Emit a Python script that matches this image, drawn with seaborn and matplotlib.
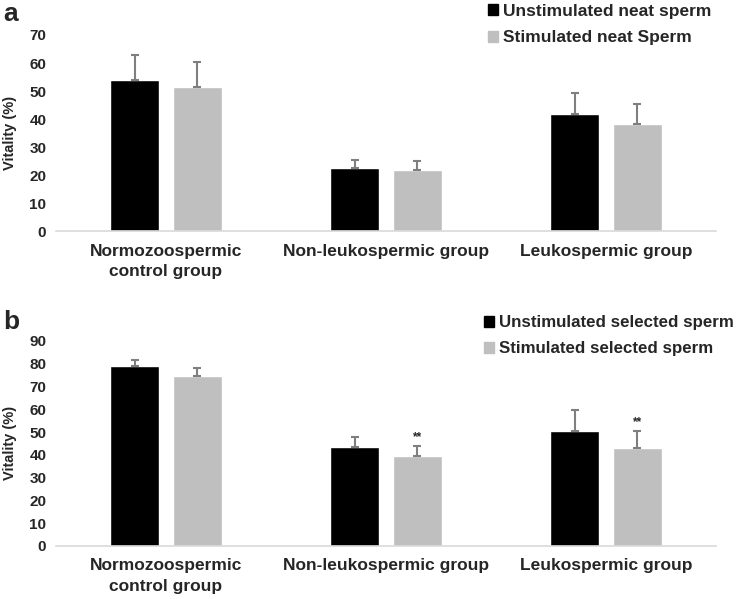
import pandas as pd
import matplotlib
matplotlib.use("Agg")
import matplotlib.pyplot as plt
import seaborn as sns
from matplotlib.patches import Patch

# values
groups = ["Normozoospermic\ncontrol group", "Non-leukospermic group", "Leukospermic group"]

neat_labels = ["Unstimulated neat sperm", "Stimulated neat Sperm"]
neat_unstim = [53.8, 22.7, 41.8]
neat_unstim_err = [9.1, 2.8, 7.6]
neat_stim = [51.3, 22.0, 38.2]
neat_stim_err = [9.1, 2.9, 7.3]

sel_labels = ["Unstimulated selected sperm", "Stimulated selected sperm"]
sel_unstim = [78.9, 43.6, 50.6]
sel_unstim_err = [2.7, 4.3, 9.0]
sel_stim = [74.7, 39.5, 42.8]
sel_stim_err = [3.5, 4.5, 7.6]
sel_stars = ["", "**", "**"]

sns.set_style("white")
plt.rcParams["font.family"] = ["Liberation Sans", "DejaVu Sans"]
plt.rcParams["font.weight"] = "bold"

colors = ["#000000", "#bfbfbf"]

fig = plt.figure(figsize=(7.42, 5.99), dpi=100)
ax_a = fig.add_axes([0.0755, 0.614, 0.8895, 0.3276])
ax_b = fig.add_axes([0.0755, 0.0885, 0.8895, 0.3425])


def draw_panel(ax, labels, v1, e1, v2, e2, ymax, stars=None, legsize=12.5):
    df = pd.DataFrame({
        "group": groups * 2,
        "kind": [labels[0]] * 3 + [labels[1]] * 3,
        "value": v1 + v2,
    })
    sns.barplot(data=df, x="group", y="value", hue="kind", order=groups,
                hue_order=labels, palette=colors, width=0.57, gap=0.22,
                errorbar=None, saturation=1, legend=False, ax=ax)
    for j, (cont, errs) in enumerate(zip(ax.containers, [e1, e2])):
        for k, (bar, err) in enumerate(zip(cont, errs)):
            x = bar.get_x() + bar.get_width() / 2
            y = bar.get_height()
            ax.errorbar(x, y, yerr=[[0], [err]], color="#7f7f7f",
                        capsize=3.2, elinewidth=1.5, capthick=1.5)
            if stars is not None and j == 1 and stars[k]:
                ax.text(x, y + err + 1.2, stars[k], ha="center", va="bottom",
                        fontsize=8.5)
    ax.set_xlim(-0.5, 2.5)
    ax.set_ylim(0, ymax)
    ax.set_yticks(range(0, ymax + 1, 10))
    ax.set_xlabel("")
    ax.set_ylabel("Vitality (%)", fontsize=10.5, fontweight="bold")
    ax.yaxis.set_label_coords(-0.059, 0.5)
    ax.tick_params(axis="y", labelsize=11, length=0, pad=7)
    ax.tick_params(axis="x", labelsize=12.5, length=0, pad=9)
    for lab in ax.get_xticklabels():
        lab.set_fontweight("bold")
        lab.set_linespacing(1.45)
    for lab in ax.get_yticklabels():
        lab.set_fontweight("bold")
    for s in ["top", "right", "left"]:
        ax.spines[s].set_visible(False)
    ax.spines["bottom"].set_color("#d9d9d9")
    ax.spines["bottom"].set_linewidth(1.2)
    handles = [Patch(facecolor=c, edgecolor=c, label=l) for c, l in zip(colors, labels)]
    leg = ax.legend(handles=handles, loc="upper left", frameon=False,
                    prop={"size": legsize, "weight": "bold"}, handlelength=0.6,
                    handleheight=0.6, handletextpad=0.3, labelspacing=0.65,
                    borderaxespad=0)
    return leg


leg_a = draw_panel(ax_a, neat_labels, neat_unstim, neat_unstim_err,
                   neat_stim, neat_stim_err, 70)
leg_a.set_bbox_to_anchor((0.648, 1.005), transform=fig.transFigure)
leg_b = draw_panel(ax_b, sel_labels, sel_unstim, sel_unstim_err,
                   sel_stim, sel_stim_err, 90, stars=sel_stars, legsize=12.2)
leg_b.set_bbox_to_anchor((0.643, 0.485), transform=fig.transFigure)

fig.text(0.004, 0.997, "a", fontsize=19, fontweight="bold", va="top")
fig.text(0.004, 0.482, "b", fontsize=19, fontweight="bold", va="top")

fig.savefig("out.png", dpi=100)
